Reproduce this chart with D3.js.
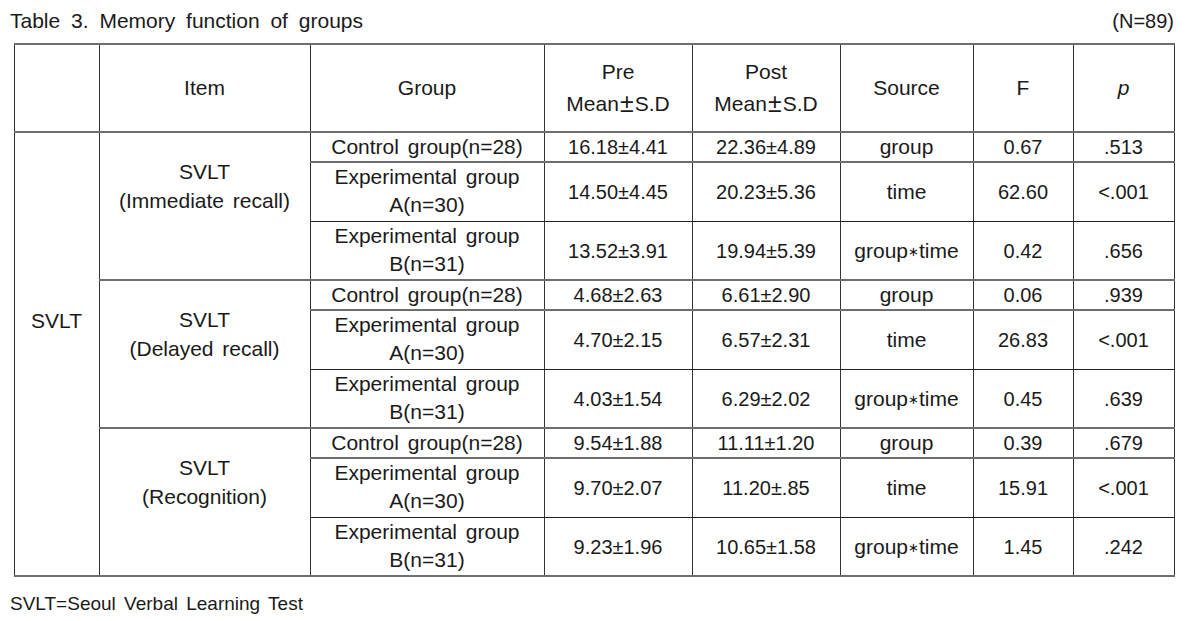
<!DOCTYPE html>
<html>
<head>
<meta charset="utf-8">
<script src="https://cdn.jsdelivr.net/npm/d3@7"></script>
<style>
  body { margin: 0; background: #fff; }
  svg text { font-family: "Liberation Sans", Arial, sans-serif; fill: #1a1a1a; word-spacing: 3px; }
</style>
</head>
<body>
<svg id="svg" width="1194" height="621"></svg>
<script>
// ---- data ----
const title = "Table 3. Memory function of groups";
const sampleNote = "(N=89)";
const footNote = "SVLT=Seoul Verbal Learning Test";

const headers = [[""], ["Item"], ["Group"], ["Pre", "Mean±S.D"], ["Post", "Mean±S.D"], ["Source"], ["F"], ["p"]];
const measure = "SVLT";
const items = [["SVLT", "(Immediate recall)"], ["SVLT", "(Delayed recall)"], ["SVLT", "(Recognition)"]];
const groups = [["Control group(n=28)"], ["Experimental group", "A(n=30)"], ["Experimental group", "B(n=31)"]];

const preValues = ["16.18±4.41", "14.50±4.45", "13.52±3.91", "4.68±2.63", "4.70±2.15", "4.03±1.54", "9.54±1.88", "9.70±2.07", "9.23±1.96"];
const postValues = ["22.36±4.89", "20.23±5.36", "19.94±5.39", "6.61±2.90", "6.57±2.31", "6.29±2.02", "11.11±1.20", "11.20±.85", "10.65±1.58"];
const sources = ["group", "time", "group*time"];
const fValues = ["0.67", "62.60", "0.42", "0.06", "26.83", "0.45", "0.39", "15.91", "1.45"];
const pValues = [".513", "<.001", ".656", ".939", "<.001", ".639", ".679", "<.001", ".242"];

// ---- layout ----
const colEdges = [14, 99, 310, 544, 692, 840, 973, 1073, 1174];
const tableTop = 44, headerH = 88;
const rowH = [30, 59, 59];
const sectionH = d3.sum(rowH);

const svg = d3.select("#svg");

const colIdx = d3.range(colEdges.length - 1);
const xLeft = d3.scaleOrdinal().domain(colIdx).range(colEdges.slice(0, -1));
const xRight = d3.scaleOrdinal().domain(colIdx).range(colEdges.slice(1));
const xMid = i => (xLeft(i) + xRight(i)) / 2;

const bodyTop = tableTop + headerH;
const rowIdx = d3.range(items.length * groups.length);
const rowTops = rowIdx.map(i => bodyTop + Math.floor(i / 3) * sectionH + d3.sum(rowH.slice(0, i % 3)));
const yTop = d3.scaleOrdinal().domain(rowIdx).range(rowTops);
const yMid = i => yTop(i) + rowH[i % 3] / 2;
const ySection = d3.scaleBand().domain(d3.range(items.length)).range([bodyTop, bodyTop + sectionH * items.length]);
const tableBottom = bodyTop + sectionH * items.length;

const base = 7; // cap centre -> baseline

function label(x, cy, lines, offsets, size, italic) {
  lines.forEach((t, k) => {
    const el = svg.append("text")
      .attr("x", x)
      .attr("y", cy + offsets[k] + base)
      .attr("text-anchor", "middle")
      .style("font-size", (size || 21) + "px")
      .style("font-style", italic ? "italic" : null);
    if (t.includes("*")) {
      const p = t.split("*");
      el.append("tspan").text(p[0]);
      el.append("tspan").style("font-size", "13px").attr("dy", -2).text("∗");
      el.append("tspan").attr("dy", 2).text(p[1]);
    } else {
      el.text(t);
    }
  });
}

// ---- title / notes ----
svg.append("text").attr("x", 10).attr("y", 28).style("font-size", "21px").style("word-spacing", "5px").text(title);
svg.append("text").attr("x", 1174).attr("y", 28).attr("text-anchor", "end").style("font-size", "20px").style("word-spacing", "0px").text(sampleNote);
svg.append("text").attr("x", 10).attr("y", 610).style("font-size", "19px").style("word-spacing", "3px").text(footNote);

// ---- header ----
const headMid = tableTop + headerH / 2;
headers.forEach((h, i) => {
  if (h.length === 1) {
    label(xMid(i), headMid, h, [0], 21, h[0] === "p");
  } else {
    label(xMid(i), headMid, [h[0]], [-16], 21);
    const parts = h[1].split("±");
    const t = svg.append("text")
      .attr("x", xMid(i))
      .attr("y", headMid + 16 + base)
      .attr("text-anchor", "middle")
      .style("font-size", "21px");
    t.append("tspan").text(parts[0]);
    t.append("tspan").attr("dx", 1).style("font-size", "25px").style("font-weight", "300").attr("dy", 1).text("±");
    t.append("tspan").attr("dx", 1).attr("dy", -1).text(parts[1]);
  }
});

// ---- body ----
label(xMid(0), (bodyTop + tableBottom) / 2, [measure], [-33]);

items.forEach((it, s) => {
  const cy = ySection(s) + sectionH / 2;
  label(xMid(1), cy, it, [-34, -5]);
});

rowIdx.forEach(i => {
  const g = groups[i % 3];
  const cy = yMid(i);
  if (g.length === 1) label(xMid(2), cy, g, [0]);
  else label(xMid(2), cy, g, [-15, 13]);
  label(xMid(3), cy, [preValues[i]], [0], 20);
  label(xMid(4), cy, [postValues[i]], [0], 20);
  label(xMid(5), cy, [sources[i % 3]], [0]);
  label(xMid(6), cy, [fValues[i]], [0], 20);
  label(xMid(7), cy, [pValues[i]], [0], 20);
});

// ---- rules ----
const thin = { stroke: "#222", w: 1 };
const thick = { stroke: "#6e6e6e", w: 2 };

function hline(y, x1, x2, st) {
  svg.append("line")
    .attr("x1", x1).attr("x2", x2)
    .attr("y1", y).attr("y2", y)
    .style("stroke", st.stroke)
    .style("stroke-width", st.w);
}

colEdges.forEach(x => {
  svg.append("line")
    .attr("x1", x + 0.5).attr("x2", x + 0.5)
    .attr("y1", tableTop).attr("y2", tableBottom)
    .style("stroke", "#333")
    .style("stroke-width", 1);
});

hline(tableTop, colEdges[0], colEdges[8] + 1, thick);
hline(bodyTop, colEdges[0], colEdges[8] + 1, thick);
hline(tableBottom, colEdges[0], colEdges[8] + 1, thick);
items.forEach((it, s) => {
  if (s > 0) hline(ySection(s), colEdges[1], colEdges[8] + 1, thick);
});
rowIdx.forEach(i => {
  if (i % 3 === 1) hline(yTop(i), colEdges[2], colEdges[8] + 1, thick);
  if (i % 3 === 2) hline(yTop(i) + 0.5, colEdges[2], colEdges[8] + 1, thin);
});
</script>
</body>
</html>
